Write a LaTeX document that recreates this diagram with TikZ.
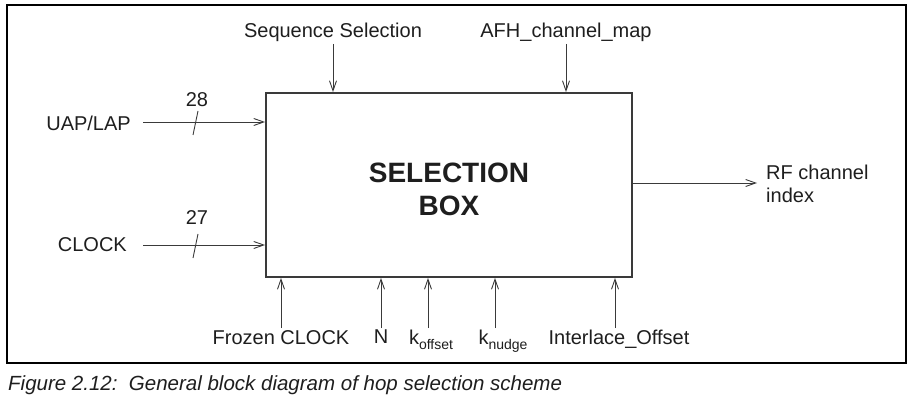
\documentclass[tikz,border=0pt]{standalone}
\usepackage{fontspec}
\setmainfont{Liberation Sans}
\usetikzlibrary{arrows.meta, positioning}
\definecolor{linegrey}{HTML}{3A3A3A}
\definecolor{textblack}{HTML}{1E1E1E}
\newcommand{\lowsub}[2]{#1\raisebox{-0.45ex}{\fontsize{14}{14}\selectfont #2}}

\begin{document}
\begin{tikzpicture}[x=1pt, y=-1pt,
    sig/.style={draw=linegrey, line width=0.9pt,
                -{Straight Barb[length=10pt, width=7pt, line width=0.9pt]}},
    lbl/.style={text=textblack, font=\fontsize{20}{23}\selectfont, inner sep=2pt},
    busmark/.style={draw=linegrey, line width=0.9pt}]
    \useasboundingbox (0,0) rectangle (915,406);
    % Frame and caption
    \draw[line width=2.2pt] (7,5) rectangle (906,363);
    \node[lbl, anchor=west, inner sep=0pt, font=\fontsize{20.5}{24}\selectfont\itshape] (cap) at (8,385)
         {Figure 2.12:\ \ General block diagram of hop selection scheme};
    % Selection box
    \node[draw=linegrey, line width=1.8pt, minimum width=366pt, minimum height=184pt]
         (box) at (449,185) {};
    \node[align=center, text=textblack, font=\fontsize{28}{33}\selectfont\bfseries]
         (title) at (449,189) {SELECTION\\BOX};
    % Top inputs
    \node[lbl, anchor=south] (seq) at (333,44) {Sequence Selection};
    \node[lbl, anchor=south] (afh) at (566,44) {AFH\_channel\_map};
    \draw[sig] (seq.south) -- (seq.south |- box.north);
    \draw[sig] (afh.south) -- (afh.south |- box.north);
    % Left inputs
    \node[lbl, anchor=east] (uap) at (133,123) {UAP/LAP};
    \node[lbl, anchor=east] (clk) at (129,245) {CLOCK};
    \coordinate (uapin) at (143,122);
    \coordinate (clkin) at (143,245);
    \draw[sig] (uapin) -- (uapin -| box.west);
    \draw[sig] (clkin) -- (clkin -| box.west);
    \draw[busmark] (193,135) -- (198,111);
    \draw[busmark] (193,258) -- (198,234);
    \node[lbl] (w28) at (197,100) {28};
    \node[lbl] (w27) at (197,218) {27};
    % Output
    \coordinate (rfout) at (757,183);
    \draw[sig] (rfout -| box.east) -- (rfout);
    \node[lbl, anchor=west, align=left] (rf) at (764,184) {RF channel\\index};
    % Bottom inputs
    \node[lbl, anchor=north] (frz) at (281,328) {Frozen CLOCK};
    \node[lbl, anchor=north] (nn) at (381,328) {N};
    \node[lbl, anchor=north] (koff) at (431,328) {\lowsub{k}{offset}};
    \node[lbl, anchor=north] (knud) at (503,328) {\lowsub{k}{nudge}};
    \node[lbl, anchor=north] (ilo) at (619,328) {Interlace\_Offset};
    \draw[sig] (frz.north) -- (frz.north |- box.south);
    \draw[sig] (nn.north) -- (nn.north |- box.south);
    \draw[sig] ([xshift=-3pt]koff.north) -- ([xshift=-3pt]koff.north |- box.south);
    \draw[sig] ([xshift=-8pt]knud.north) -- ([xshift=-8pt]knud.north |- box.south);
    \draw[sig] ([xshift=-4pt]ilo.north) -- ([xshift=-4pt]ilo.north |- box.south);
\end{tikzpicture}
\end{document}
